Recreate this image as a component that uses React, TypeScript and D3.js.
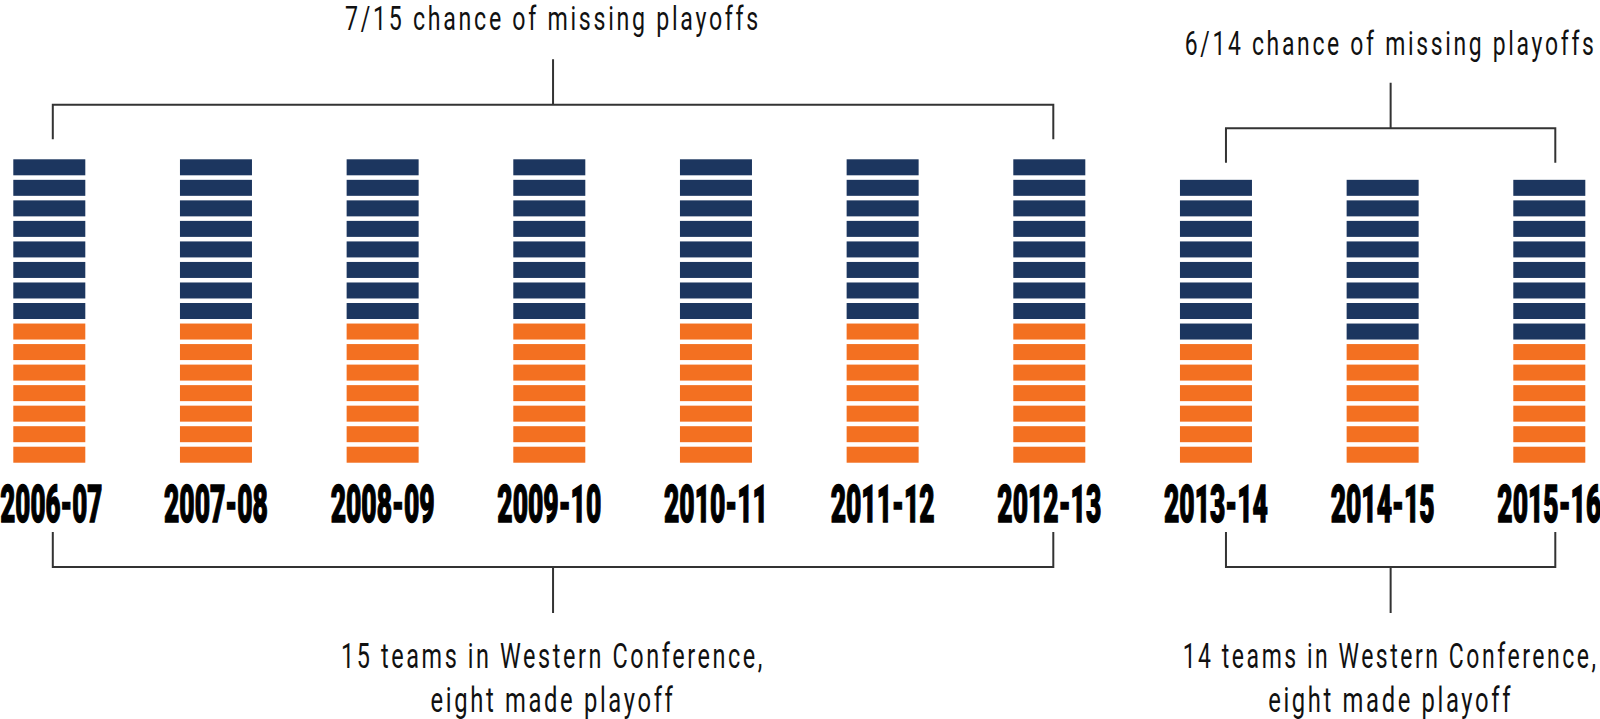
import React, { useLayoutEffect, useRef, useState } from "react";
import * as d3 from "d3";

const seasons = ["2006-07", "2007-08", "2008-09", "2009-10", "2010-11", "2011-12", "2012-13", "2013-14", "2014-15", "2015-16"];
const teamsInConference = [15, 15, 15, 15, 15, 15, 15, 14, 14, 14];
const madePlayoffs = [8, 8, 8, 8, 8, 8, 8, 8, 8, 8];

const groupTopLabels = ["7/15 chance of missing playoffs", "6/14 chance of missing playoffs"];
const groupBottomLabels = [
  ["15 teams in Western Conference,", "eight made playoff"],
  ["14 teams in Western Conference,", "eight made playoff"],
];
const groupRanges = [
  [0, 6],
  [7, 9],
];

const NAVY = "#1c365f";
const ORANGE = "#f37021";
const LINE = "#333333";

const W = 1600;
const H = 719;

function FitText(props: any) {
  const { x, y, width, children, ...rest } = props;
  const ref = useRef<SVGTextElement>(null);
  const [sx, setSx] = useState(1);
  useLayoutEffect(() => {
    if (ref.current) {
      const w = ref.current.getComputedTextLength();
      if (w > 0) setSx(width / w);
    }
  }, [width, children]);
  return (
    <text ref={ref} transform={`translate(${x},${y}) scale(${sx},1)`} textAnchor="middle" {...rest}>
      {children}
    </text>
  );
}

export default function App() {
  const x = d3.scaleBand<string>().domain(seasons).range([13.3, 1585.3]).paddingInner(0.568).paddingOuter(0);
  const bw = x.bandwidth();
  const pitch = 20.53;
  const barH = 16;
  const maxTeams = d3.max(teamsInConference) as number;
  const y = d3.scaleLinear().domain([0, maxTeams]).range([159.3 + maxTeams * pitch, 159.3]);

  const cells: { key: string; x: number; y: number; fill: string }[] = [];
  seasons.forEach((s, i) => {
    const n = teamsInConference[i];
    const missed = n - madePlayoffs[i];
    for (let k = 0; k < n; k++) {
      cells.push({ key: s + "-" + k, x: x(s) as number, y: y(k + 1), fill: k < missed ? ORANGE : NAVY });
    }
  });

  const annoFont = "Roboto, 'DejaVu Sans Condensed', 'Liberation Sans', sans-serif";
  const offsets = [
    [3.5, 4],
    [10, 6],
  ];

  return (
    <svg width={W} height={H} style={{ position: "absolute", left: 0, top: 0, display: "block", background: "#fff" }}>
      {cells.map((c) => (
        <rect key={c.key} x={c.x} y={c.y} width={bw} height={barH} fill={c.fill} />
      ))}
      {seasons.map((s, i) => (
        <FitText
          key={s}
          x={(x(s) as number) + bw / 2 + (i === 0 ? 2 : 0)}
          y={521.7}
          width={i === 0 ? 102 : 104}
          fontFamily="Roboto, 'Liberation Sans', sans-serif"
          fontWeight={900}
          fontSize={52}
          fill="#000"
          stroke="#000"
          strokeWidth={1.4}
        >
          {s}
        </FitText>
      ))}
      {groupRanges.map((r, gi) => {
        const xl = (x(seasons[r[0]]) as number) + bw / 2 + offsets[gi][0];
        const xr = (x(seasons[r[1]]) as number) + bw / 2 + offsets[gi][1];
        const xm = (xl + xr) / 2;
        const topBar = y(teamsInConference[r[0]]);
        const vEnd = topBar - (gi === 0 ? 20 : 17);
        const hY = topBar - (gi === 0 ? 54.6 : 51.6);
        const stemTop = hY - 45.5;
        const bTop = 532;
        const bH = 567;
        const bStem = 613;
        return (
          <g key={gi}>
            <path
              d={`M${xl},${vEnd}V${hY}H${xr}V${vEnd}M${xm},${hY}V${stemTop}`}
              fill="none"
              stroke={LINE}
              strokeWidth={2}
            />
            <path
              d={`M${xl},${bTop}V${bH}H${xr}V${bTop}M${xm},${bH}V${bStem}`}
              fill="none"
              stroke={LINE}
              strokeWidth={2}
            />
            <FitText
              x={xm}
              y={stemTop - (gi === 0 ? 29 : 28)}
              width={gi === 0 ? 416 : 412}
              fontFamily={annoFont}
              fontSize={34}
              letterSpacing={4}
              fill="#111"
            >
              {groupTopLabels[gi]}
            </FitText>
            <FitText
              x={xm}
              y={668}
              width={gi === 0 ? 424 : 416}
              fontFamily={annoFont}
              fontSize={36}
              letterSpacing={4}
              fill="#111"
            >
              {groupBottomLabels[gi][0]}
            </FitText>
            <FitText
              x={xm}
              y={711.7}
              width={245}
              fontFamily={annoFont}
              fontSize={36}
              letterSpacing={4}
              fill="#111"
            >
              {groupBottomLabels[gi][1]}
            </FitText>
          </g>
        );
      })}
    </svg>
  );
}
